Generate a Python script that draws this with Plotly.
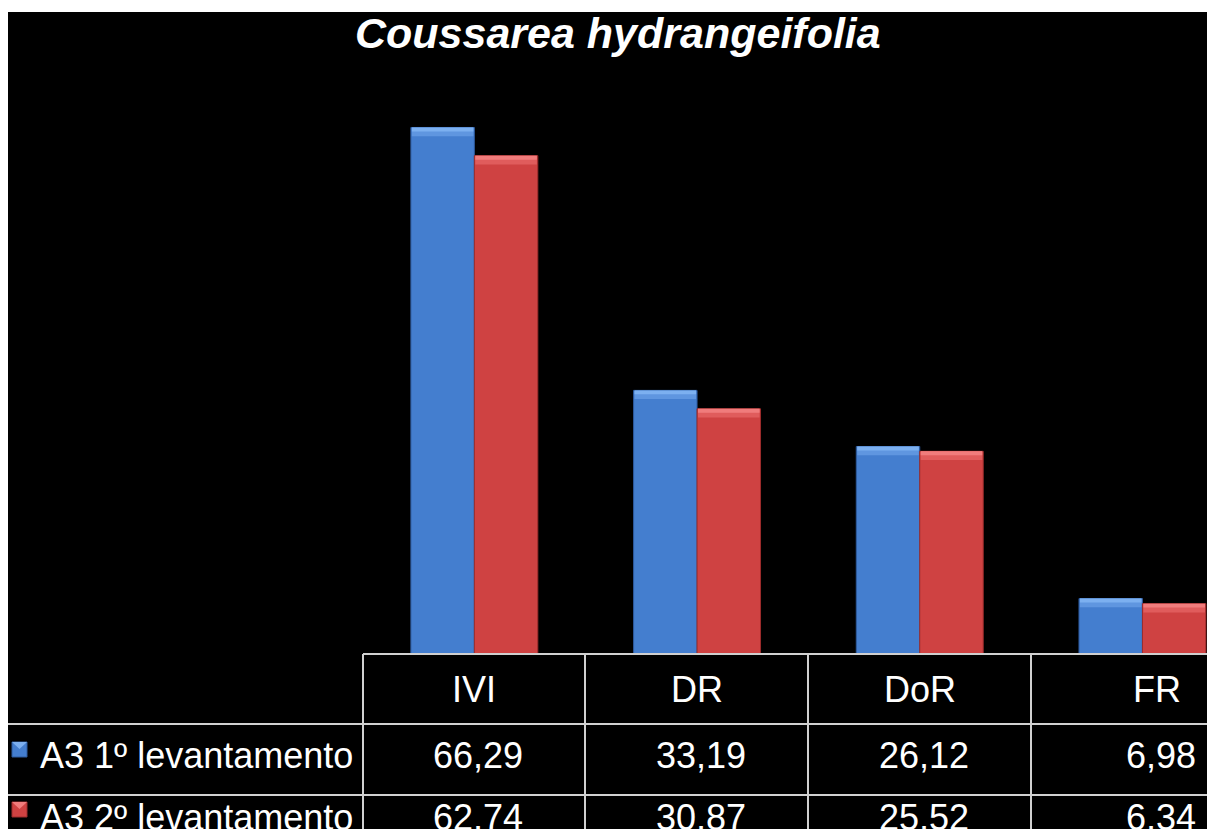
import plotly.graph_objects as go

categories = ["IVI", "DR", "DoR", "FR"]
series_names = ["A3 1º levantamento", "A3 2º levantamento"]
values_1 = [66.29, 33.19, 26.12, 6.98]
values_2 = [62.74, 30.87, 25.52, 6.34]
title_text = "Coussarea hydrangeifolia"

W, H = 1207, 829
FONT = "Liberation Sans, Arial, sans-serif"


def px(x):
    return x / W


def py(y):
    return 1 - y / H


idx = list(range(len(categories)))
bw = 0.285
band = 1.1
band2 = 0.5

body_colors = ["#447ecf", "#cf4242"]
mid_colors = ["#5f96e0", "#e05c5c"]
top_colors = ["#7cb0f0", "#f07c7c"]
edge_colors = ["#2d5a9e", "#9c2c2c"]
offsets = [-bw, 0.0]

fig = go.Figure()
for vals, name, bc, mc, tc, ec, off in zip([values_1, values_2], series_names, body_colors,
                                           mid_colors, top_colors, edge_colors, offsets):
    fig.add_trace(go.Bar(x=idx, y=vals, width=bw, offset=off, name=name,
                         marker=dict(color=bc, line=dict(color=ec, width=1)),
                         opacity=1, showlegend=False, hoverinfo="skip"))
    fig.add_trace(go.Bar(x=idx, y=[band] * len(vals), base=[v - band for v in vals],
                         width=bw * 0.97, offset=off + bw * 0.015, name=name + " top",
                         marker=dict(color=mc, line=dict(width=0)),
                         opacity=1, showlegend=False, hoverinfo="skip"))
    fig.add_trace(go.Bar(x=idx, y=[band2] * len(vals), base=[v - band2 for v in vals],
                         width=bw * 0.97, offset=off + bw * 0.015, name=name + " top2",
                         marker=dict(color=tc, line=dict(width=0)),
                         opacity=1, showlegend=False, hoverinfo="skip"))

shapes = []
# black chart area
shapes.append(dict(type="rect", xref="paper", yref="paper", x0=px(8), x1=1, y0=0, y1=py(12),
                   fillcolor="black", line=dict(width=0), layer="below"))
# table lines
lc = "#d0d0d0"
lw = 2
shapes.append(dict(type="line", xref="paper", yref="paper", x0=px(363), x1=1, y0=py(654), y1=py(654),
                   line=dict(color=lc, width=lw)))
for yy in [724, 795]:
    shapes.append(dict(type="line", xref="paper", yref="paper", x0=px(8), x1=1, y0=py(yy), y1=py(yy),
                       line=dict(color=lc, width=lw)))
for xx in [363, 585, 808, 1031]:
    shapes.append(dict(type="line", xref="paper", yref="paper", x0=px(xx), x1=px(xx), y0=0, y1=py(654),
                       line=dict(color=lc, width=lw)))
# legend keys
for (ky, bc, tc, ec) in [(742, body_colors[0], top_colors[0], edge_colors[0]),
                         (802, body_colors[1], top_colors[1], edge_colors[1])]:
    shapes.append(dict(type="rect", xref="paper", yref="paper", x0=px(12), x1=px(27),
                       y0=py(ky + 15), y1=py(ky), fillcolor=bc, line=dict(color=ec, width=1)))
    shapes.append(dict(type="path", xref="paper", yref="paper",
                       path=f"M {px(12)},{py(ky)} L {px(27)},{py(ky)} L {px(19.5)},{py(ky + 7)} Z",
                       fillcolor=tc, line=dict(width=0)))

annotations = []
annotations.append(dict(text=f"<b><i>{title_text}</i></b>", xref="paper", yref="paper",
                        x=px(618), y=py(33), xanchor="center", yanchor="middle", showarrow=False,
                        font=dict(family=FONT, size=43, color="white")))
fs = 36
row_y = [py(689), py(755), py(817)]
for i, c in enumerate(categories):
    shift = 15 if i == len(categories) - 1 else 0
    annotations.append(dict(text=c, xref="x", yref="paper", x=i, y=row_y[0], xshift=shift,
                            xanchor="center", yanchor="middle", showarrow=False,
                            font=dict(family=FONT, size=fs, color="white")))
    for r, vals in enumerate([values_1, values_2]):
        annotations.append(dict(text=f"{vals[i]:.2f}".replace(".", ","), xref="x", yref="paper",
                                x=i, y=row_y[r + 1], xshift=shift + 4,
                                xanchor="center", yanchor="middle", showarrow=False,
                                font=dict(family=FONT, size=fs, color="white")))
for r, name in enumerate(series_names):
    annotations.append(dict(text=name, xref="paper", yref="paper", x=px(38), y=row_y[r + 1],
                            xanchor="left", yanchor="middle", showarrow=False,
                            font=dict(family=FONT, size=fs, color="white")))

x_right = -0.5 + (W - 363) / 222.7
fig.update_layout(
    width=W, height=H,
    margin=dict(l=0, r=0, t=0, b=0),
    paper_bgcolor="white", plot_bgcolor="black",
    barmode="overlay",
    xaxis=dict(domain=[px(363), 1], range=[-0.5, x_right], showticklabels=False,
               showgrid=False, zeroline=False, showline=False),
    yaxis=dict(domain=[py(654), py(98)], range=[0, 70], showticklabels=False,
               showgrid=False, zeroline=False, showline=False),
    shapes=shapes, annotations=annotations, showlegend=False,
)

fig.write_html("out.html", config={"displayModeBar": False},
               post_script="document.body.style.margin='0';document.body.style.overflow='hidden';")
